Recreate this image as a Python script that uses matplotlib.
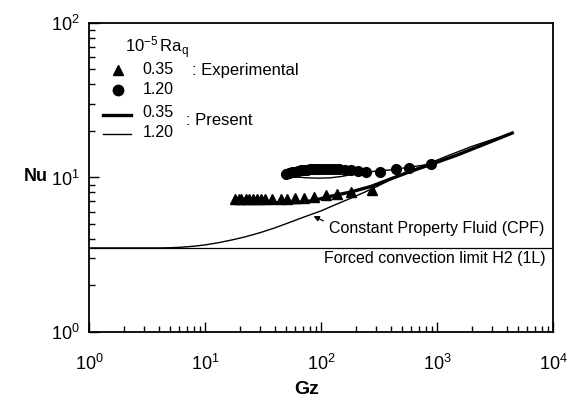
import matplotlib
matplotlib.use("Agg")
import matplotlib.pyplot as plt
from matplotlib.ticker import LogLocator, NullFormatter

plt.rcParams['font.family'] = ['Liberation Sans', 'DejaVu Sans']
plt.rcParams['mathtext.fontset'] = 'custom'
plt.rcParams['mathtext.rm'] = 'Liberation Sans'
plt.rcParams['mathtext.it'] = 'Liberation Sans:italic'
plt.rcParams['mathtext.bf'] = 'Liberation Sans:bold'

# experimental data, 10^-5 Ra_q = 0.35 (triangles)
gz_exp_035 = [18.3, 19.6, 20.6, 22.4, 24.1, 26.0, 28.2, 30.5, 33.0, 38, 45, 51, 60, 71, 87, 110, 137, 181, 274]
nu_exp_035 = [7.25, 7.25, 7.25, 7.25, 7.25, 7.25, 7.25, 7.25, 7.25, 7.25, 7.3, 7.3, 7.35, 7.4, 7.5, 7.65, 7.8, 8.1, 8.35]

# experimental data, 10^-5 Ra_q = 1.20 (circles)
gz_exp_120 = [50, 53, 56, 59.5, 63, 67, 71, 75.5, 80, 85, 91, 97, 104, 112, 121, 131, 143, 160, 182, 210, 245, 325, 440, 570, 880]
nu_exp_120 = [10.5, 10.65, 10.8, 10.9, 11.0, 11.1, 11.2, 11.25, 11.3, 11.35, 11.35, 11.4, 11.4, 11.35, 11.35,
              11.3, 11.3, 11.2, 11.1, 11.0, 10.9, 10.85, 11.3, 11.6, 12.2]

# present predictions
gz_pre_035 = [18, 22, 28, 35, 45, 55, 70, 85, 100, 130, 180, 270, 400, 600, 900, 1500, 2500, 4450]
nu_pre_035 = [7.1, 7.0, 6.95, 6.9, 6.85, 6.85, 6.9, 7.1, 7.3, 7.65, 8.05, 8.75, 9.8, 11.0, 12.2, 14.0, 16.3, 19.4]

gz_pre_120 = [50, 60, 75, 95, 120, 150, 190, 240, 300, 400, 550, 880, 1500, 2500, 4450]
nu_pre_120 = [10.45, 10.1, 9.95, 9.9, 9.95, 10.15, 10.5, 10.8, 11.0, 11.2, 11.6, 12.2, 14.1, 16.4, 19.4]

# constant property fluid
gz_cpf = [1, 2, 3, 4, 5, 6, 7, 8, 10, 13, 17, 22, 30, 40, 50, 70, 100, 130, 170, 230, 300, 400, 550, 800, 1200, 2000, 3000, 4450]
nu_cpf = [3.5, 3.5, 3.5, 3.5, 3.51, 3.53, 3.56, 3.59, 3.66, 3.78, 3.94, 4.12, 4.4, 4.72, 5.02, 5.52, 6.08, 6.62,
          7.2, 7.95, 8.7, 9.7, 10.8, 12.1, 13.7, 15.9, 17.6, 19.4]

nu_limit = 3.5

fig = plt.figure(figsize=(5.75, 4.01), dpi=100)
ax = fig.add_axes([0.1548, 0.1721, 0.8070, 0.7706])

ax.axhline(nu_limit, color='black', lw=0.9)
ax.plot(gz_cpf, nu_cpf, color='black', lw=1.0)
ax.plot(gz_pre_035, nu_pre_035, color='black', lw=2.4)
ax.plot(gz_pre_120, nu_pre_120, color='black', lw=1.0)
ax.plot(gz_exp_035, nu_exp_035, '^', color='black', ms=6.5, ls='none')
ax.plot(gz_exp_120, nu_exp_120, 'o', color='black', ms=7, ls='none')

ax.set_xscale('log')
ax.set_yscale('log')
ax.set_xlim(1, 1e4)
ax.set_ylim(1, 100)

ax.xaxis.set_major_locator(LogLocator(base=10, numticks=10))
ax.xaxis.set_minor_locator(LogLocator(base=10, subs=range(2, 10), numticks=100))
ax.yaxis.set_minor_locator(LogLocator(base=10, subs=range(2, 10), numticks=100))
ax.xaxis.set_minor_formatter(NullFormatter())
ax.yaxis.set_minor_formatter(NullFormatter())

ax.tick_params(which='both', direction='in', top=False, right=False, width=1.0)
ax.tick_params(which='major', length=7, labelsize=13)
ax.tick_params(which='minor', length=4)
ax.tick_params(axis='x', which='major', pad=16)
ax.tick_params(axis='y', which='major', pad=7)
for s in ax.spines.values():
    s.set_linewidth(1.3)

# axis titles
fig.text(307 / 575, 1 - 390 / 401, 'Gz', fontsize=14, fontweight='bold', ha='center', va='center')
fig.text(36 / 575, 1 - 177 / 401, 'Nu', fontsize=13, fontweight='bold', ha='center', va='center')

# legend drawn by hand
tr = ax.transAxes
ax.text(0.077, 0.919, r'$10^{-5}\,\mathrm{Ra}_{\mathrm{q}}$', transform=tr, fontsize=12, va='center', ha='left')
ax.plot([0.062], [0.848], '^', color='black', ms=7, transform=tr)
ax.plot([0.062], [0.783], 'o', color='black', ms=7.5, transform=tr)
ax.plot([0.030, 0.090], [0.702, 0.702], color='black', lw=2.4, transform=tr)
ax.plot([0.030, 0.090], [0.641, 0.641], color='black', lw=1.0, transform=tr)
ax.text(0.116, 0.848, '0.35', transform=tr, fontsize=11.5, va='center')
ax.text(0.116, 0.786, '1.20', transform=tr, fontsize=11.5, va='center')
ax.text(0.116, 0.709, '0.35', transform=tr, fontsize=11.5, va='center')
ax.text(0.116, 0.647, '1.20', transform=tr, fontsize=11.5, va='center')
ax.text(0.223, 0.845, ': Experimental', transform=tr, fontsize=12, va='center')
ax.text(0.210, 0.686, ': Present', transform=tr, fontsize=12, va='center')

ax.annotate('', xy=(82, 5.72), xytext=(110, 5.15),
            arrowprops=dict(arrowstyle='-|>', color='black', lw=0.9, mutation_scale=8))
ax.text(117, 4.71, 'Constant Property Fluid (CPF)', fontsize=11.5, va='center', ha='left')
ax.text(8650, 2.97, 'Forced convection limit H2 (1L)', fontsize=11.5, va='center', ha='right')

fig.savefig('out.png', dpi=100)
